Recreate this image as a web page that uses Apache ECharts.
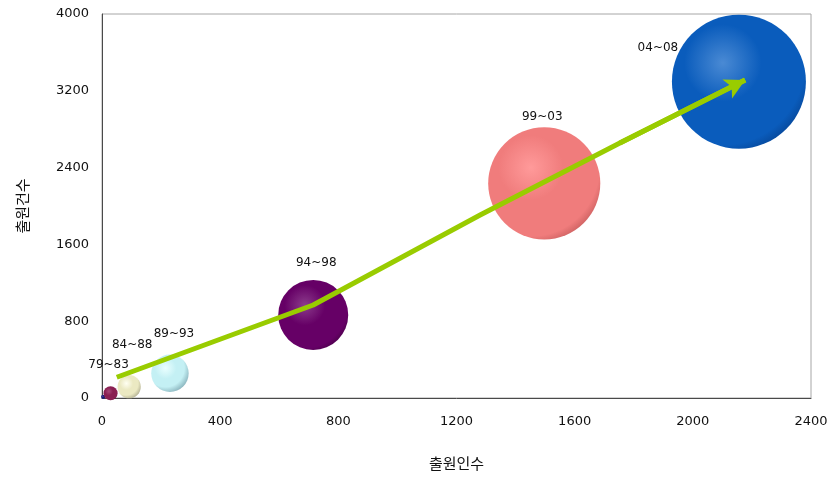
<!DOCTYPE html>
<html>
<head>
<meta charset="utf-8">
<script src="https://cdn.jsdelivr.net/npm/echarts@6/dist/echarts.min.js"></script>
<style>
  html, body { margin: 0; padding: 0; background: #fff; }
  #chart { width: 831px; height: 478px; }
</style>
</head>
<body>
<div id="chart"></div>
<script>
// Periods (application years) and their values
const periods = ['', '79~83', '84~88', '89~93', '94~98', '99~03', '04~08'];
const applicants = [4, 29, 92, 230, 715, 1497, 2156];      // 출원인수
const applications = [12, 49, 118, 257, 865, 2236, 3295];  // 출원건수
const bubbleWeight = [1, 11, 30, 78, 273, 700, 1000];      // relative bubble area

// Growth trend drawn as an arrow across the bubbles
const trendX = [50, 715, 1280, 1753, 2177];
const trendY = [216, 969, 1906, 2656, 3313];

const xTicks = [0, 400, 800, 1200, 1600, 2000, 2400];
const yTicks = [0, 800, 1600, 2400, 3200, 4000];

// sphere shading per bubble: [highlight, body, rim, where the rim starts]
const shades = [
  ['#4a4aa0', '#1a1a78', '#101058', 0.85],
  ['#a84878', '#8a2052', '#5e1038', 0.85],
  ['#fffff2', '#ebe9c2', '#acaa8e', 0.7],
  ['#eaffff', '#c4f0f4', '#80aab4', 0.7],
  ['#8c3c8c', '#660066', '#480048', 0.85],
  ['#ff9a9a', '#f07c7c', '#c45a5a', 0.85],
  ['#4a8ad4', '#0a5cbc', '#064392', 0.85]
];
// label offset from bubble centre
const labelShift = [[0, 0], [-2, -28], [3, -42], [4, -39], [3, -52], [-2, -66], [-81, -34]];

const maxW = Math.max(...bubbleWeight);
const bubbleData = periods.map((p, i) => ({
  name: p,
  value: [applicants[i], applications[i], bubbleWeight[i]],
  symbolSize: 134 * Math.sqrt(bubbleWeight[i] / maxW),
  itemStyle: {
    opacity: 1,
    color: {
      type: 'radial', x: 0.38, y: 0.36, r: 0.72,
      colorStops: [
        { offset: 0, color: shades[i][0] },
        { offset: 0.4, color: shades[i][1] },
        { offset: shades[i][3], color: shades[i][1] },
        { offset: 1, color: shades[i][2] }
      ]
    }
  },
  label: {
    show: p !== '',
    position: 'inside',
    offset: labelShift[i]
  }
}));

const trendData = trendX.map((x, i) => [x, trendY[i]]);
const n = trendData.length;

const font = '"DejaVu Sans", "Noto Sans CJK KR", sans-serif';
const krFont = '"Noto Sans CJK KR", sans-serif';

const chart = echarts.init(document.getElementById('chart'), null, { renderer: 'canvas' });
chart.setOption({
  animation: false,
  backgroundColor: '#fff',
  grid: {
    left: 102, right: 20, top: 14, bottom: 80,
    show: true, borderColor: '#a6a6a6', borderWidth: 1, backgroundColor: '#fff'
  },
  xAxis: {
    type: 'value', min: xTicks[0], max: xTicks[xTicks.length - 1], interval: 400,
    name: '출원인수', nameLocation: 'middle', nameGap: 58,
    nameTextStyle: { fontFamily: krFont, fontSize: 15, color: '#111' },
    axisLine: { show: true, onZero: false, lineStyle: { color: '#4a4a4a', width: 1 } },
    axisTick: { show: false },
    splitLine: { show: false },
    axisLabel: { margin: 17, fontFamily: font, fontSize: 13, color: '#111', formatter: v => String(v) }
  },
  yAxis: {
    type: 'value', min: yTicks[0], max: yTicks[yTicks.length - 1], interval: 800,
    name: '출원건수', nameLocation: 'middle', nameGap: 72, nameRotate: 90,
    nameTextStyle: { fontFamily: krFont, fontSize: 15, color: '#111' },
    axisLine: { show: true, onZero: false, lineStyle: { color: '#4a4a4a', width: 1 } },
    axisTick: { show: false },
    splitLine: { show: false },
    axisLabel: { margin: 13, fontFamily: font, fontSize: 13, color: '#111', formatter: v => String(v) }
  },
  series: [
    {
      type: 'scatter',
      data: bubbleData,
      z: 2,
      label: { formatter: '{b}', fontFamily: font, fontSize: 12, color: '#111' },
      emphasis: { disabled: true }
    },
    {
      type: 'line',
      data: trendData,
      smooth: false,
      showSymbol: false,
      z: 3,
      lineStyle: { color: '#99cc00', width: 5, join: 'round' },
      markLine: {
        silent: true,
        symbol: ['none', 'arrow'],
        symbolSize: [16, 20],
        label: { show: false },
        lineStyle: { color: '#99cc00', width: 5, type: 'solid' },
        data: [[{ coord: trendData[n - 2] }, { coord: trendData[n - 1] }]]
      }
    }
  ]
});
</script>
</body>
</html>
